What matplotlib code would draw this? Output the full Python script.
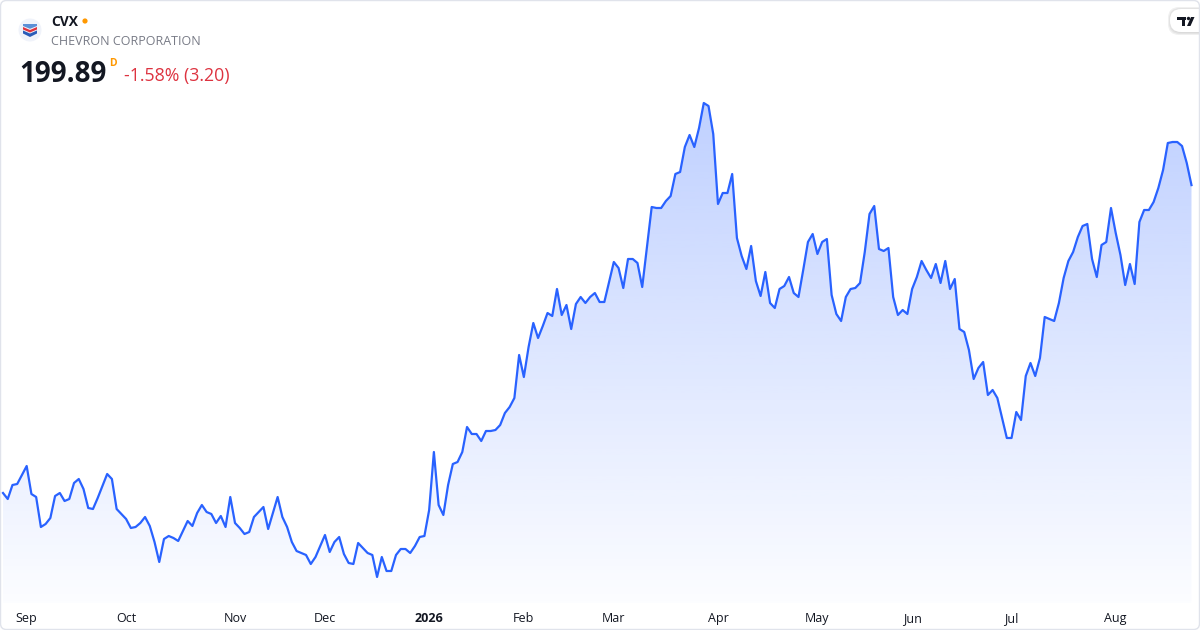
import os
import numpy as np
import pandas as pd
import matplotlib
matplotlib.use("Agg")
import matplotlib.pyplot as plt
from matplotlib import font_manager
from matplotlib.patches import FancyBboxPatch, Circle, Polygon, Rectangle
from matplotlib.colors import to_rgb

# pick the first family that really ships a bold file
family = 'DejaVu Sans'
for f in ['Noto Sans', 'Open Sans', 'Roboto', 'Inter', 'Lato', 'Liberation Sans']:
    try:
        p = font_manager.findfont(font_manager.FontProperties(family=f, weight='bold'),
                                  fallback_to_default=False)
    except Exception:
        continue
    if 'bold' in os.path.basename(p).lower():
        family = f
        break
plt.rcParams['font.family'] = [family, 'DejaVu Sans']

# daily closes, CVX (Aug 25 2025 .. Aug 2026)
closes_2025 = [
    169.1, 168.5, 169.9, 170.0, 170.9, 171.8, 169.0, 168.7, 165.7, 166.0,
    166.6, 168.8, 169.1, 168.3, 168.5, 170.1, 170.5, 169.5, 167.6, 167.5,
    168.6, 169.8, 171.0, 170.5, 167.5, 167.0, 166.5, 165.6, 165.7, 166.1,
    166.7, 165.8, 164.2, 162.2, 164.5, 164.8, 164.6, 164.3, 165.3, 166.3,
    165.8, 167.1, 167.9, 167.2, 167.0, 166.1, 166.8, 165.7, 168.7, 166.1,
    165.6, 165.0, 165.2, 166.7, 167.2, 167.7, 165.5, 167.1, 168.7, 166.7,
    165.7, 164.2, 163.3, 163.1, 162.9, 162.0, 162.7, 163.8, 164.9, 163.2,
    164.2, 164.7, 163.0, 162.1, 162.0, 164.1, 163.6, 163.1, 162.9, 160.7,
    162.7, 161.3, 161.3, 162.9, 163.5, 163.5, 163.1, 163.8, 164.7, 164.8,
    167.4, 173.2, 167.9, 166.9,
]
closes_2026 = [
    169.9, 172.0, 172.2, 173.2, 175.7, 175.0, 175.0, 174.3, 175.3, 175.3,
    175.4, 175.9, 177.1, 177.7, 178.6, 182.9, 180.7, 183.7, 186.1, 184.6,
    185.8, 187.1, 186.8, 189.5, 186.9, 187.9, 185.5, 188.0, 188.7, 188.1,
    188.7, 189.1, 188.2, 188.2, 190.2, 192.2, 191.6, 189.6, 192.5, 192.5,
    192.1, 189.7, 193.7, 197.7, 197.6, 197.6, 198.3, 198.8, 201.0, 201.2,
    203.7, 204.9, 203.7, 205.6, 208.1, 207.8, 205.0, 198.0, 199.1, 199.1,
    201.0, 194.6, 192.8, 191.5, 193.8, 190.3, 188.8, 191.2, 188.1, 187.6,
    189.5, 189.8, 190.7, 189.1, 188.7, 191.4, 194.2, 195.0, 193.0, 194.2,
    194.5, 188.9, 187.0, 186.3, 188.7, 189.5, 189.6, 190.1, 193.2, 197.0,
    197.8, 193.5, 193.3, 193.6, 188.7, 186.9, 187.4, 187.0, 189.5, 190.7,
    192.3, 191.4, 190.6, 192.0, 190.1, 192.3, 189.5, 190.5, 185.5, 185.2,
    183.4, 180.5, 181.6, 182.2, 178.9, 179.4, 178.6, 176.6, 174.6, 174.6,
    177.2, 176.4, 180.8, 182.1, 180.8, 182.6, 186.7, 186.5, 186.3, 188.1,
    190.6, 192.3, 193.2, 194.7, 195.8, 196.0, 192.5, 190.7, 193.9, 194.2,
    197.6, 195.1, 192.9, 189.9, 192.0, 190.0, 196.2, 197.4, 197.4, 198.2,
    199.6, 201.4, 204.1, 204.2, 204.2, 203.8, 202.1, 199.89,
]
closes = np.array(closes_2025 + closes_2026)

holidays = ['2025-09-01', '2025-11-27', '2025-12-25', '2026-01-01', '2026-01-19',
            '2026-02-16', '2026-04-03', '2026-05-25', '2026-06-19', '2026-07-03']
dates = pd.bdate_range('2025-08-25', periods=len(closes), freq='C', holidays=holidays)

ticker = 'CVX'
company = 'CHEVRON CORPORATION'
last_price = '199.89'
change_text = '-1.58% (3.20)'

line_color = '#2962ff'
text_color = '#131722'

W, H = 1200, 630
fig = plt.figure(figsize=(W / 100, H / 100), dpi=100)
fig.patch.set_facecolor('white')
ax = fig.add_axes([0, 0, 1, 1])
ax.set_axis_off()

# pixel layout: first point at x=3, 4.735 px per bar; price axis 0.1 per px
step = 4.735
xlim = (-3 / step, (W - 3) / step)
ylim = (218.4 - 0.1 * H, 218.4)
base = 218.4 - 0.1 * 603

x = np.arange(len(closes))

# gradient fill under the line
top = closes.max()
n = 256
grad = np.zeros((n, 1, 4))
grad[:, 0, :3] = to_rgb(line_color)
grad[:, 0, 3] = np.linspace(0.30, 0.015, n)
poly = ax.fill_between(x, closes, base, color='none', lw=0)
img = ax.imshow(grad, aspect='auto', extent=[x[0], x[-1], base, top + 0.5],
                origin='upper', zorder=1, interpolation='bilinear')
img.set_clip_path(poly.get_paths()[0], transform=ax.transData)
ax.set_xlim(*xlim)
ax.set_ylim(*ylim)

ax.plot(x, closes, color=line_color, lw=1.6, zorder=3, solid_joinstyle='round')

# month labels at first trading day of each month
month_start = [i for i in range(1, len(dates)) if dates[i].month != dates[i - 1].month]
for i in month_start:
    d = dates[i]
    if d.month == 1:
        ax.text(i, 1 - 622 / H, str(d.year), transform=ax.get_xaxis_transform(),
                ha='center', va='baseline', fontsize=9, fontweight='bold', color=text_color)
    else:
        ax.text(i, 1 - 622 / H, d.strftime('%b'), transform=ax.get_xaxis_transform(),
                ha='center', va='baseline', fontsize=9, color=text_color)


def fx(px):
    return px / W


def fy(py):
    return 1 - py / H


# header
fig.text(fx(51), fy(26), ticker, fontsize=10, fontweight='bold', color=text_color, va='baseline')
fig.add_artist(Circle((85, H - 21), 2.6, transform=None, color='#ff9800', lw=0))
fig.text(fx(51), fy(45), company, fontsize=9.0, color='#787b86', va='baseline')
fig.text(fx(19), fy(82), last_price, fontsize=20, fontweight='bold', color=text_color, va='baseline')
fig.text(fx(109), fy(66), 'D', fontsize=7.5, fontweight='bold', color='#ff9800', va='baseline')
fig.text(fx(124), fy(81), change_text, fontsize=12.8, color='#dd3340', va='baseline')

# logo badge
fig.add_artist(Circle((30, H - 30), 11.5, transform=None, color='#f0f3fa', lw=0))
cx, cy = 30, H - 30
red_v = [(cx - 7, cy + 3), (cx, cy), (cx + 7, cy + 3), (cx + 7, cy + 0.5),
         (cx, cy - 2.5), (cx - 7, cy + 0.5)]
blue_v = [(cx - 7, cy - 0.5), (cx, cy - 3.5), (cx + 7, cy - 0.5), (cx + 7, cy - 3.5),
          (cx, cy - 7), (cx - 7, cy - 3.5)]
blue_top = [(cx - 7, cy + 6), (cx + 7, cy + 6), (cx + 7, cy + 4), (cx, cy + 1.2), (cx - 7, cy + 4)]
fig.add_artist(Polygon(blue_top, closed=True, transform=None, color='#5b8fd6', lw=0))
fig.add_artist(Polygon(red_v, closed=True, transform=None, color='#e0313c', lw=0))
fig.add_artist(Polygon(blue_v, closed=True, transform=None, color='#2a5cb8', lw=0))

# tradingview tag top right
for k, a in enumerate([0.04, 0.05, 0.06]):
    fig.add_artist(FancyBboxPatch((1170 - k, H - 33 - k), 40 + 2 * k, 24 + 2 * k,
                                  boxstyle='round,pad=0,rounding_size=11', transform=None,
                                  fc=(0, 0, 0, a), ec='none'))
fig.add_artist(FancyBboxPatch((1170, H - 32), 40, 23, boxstyle='round,pad=0,rounding_size=11',
                              transform=None, fc='white', ec='none'))
fig.add_artist(Rectangle((1177, H - 20), 8.5, 3, transform=None, color=text_color, lw=0))
fig.add_artist(Rectangle((1181.5, H - 26), 3, 9, transform=None, color=text_color, lw=0))
fig.add_artist(Circle((1188.5, H - 18.5), 1.7, transform=None, color=text_color, lw=0))
fig.add_artist(Polygon([(1191, H - 17), (1194.5, H - 17), (1190.5, H - 26), (1187, H - 26)],
                       closed=True, transform=None, color=text_color, lw=0))

# card border
fig.add_artist(FancyBboxPatch((0.5, 0.5), W - 1, H - 1, boxstyle='round,pad=0,rounding_size=6',
                              transform=None, fc='none', ec='#e0e3eb', lw=1))

fig.savefig('out.png', dpi=100, facecolor='white')
